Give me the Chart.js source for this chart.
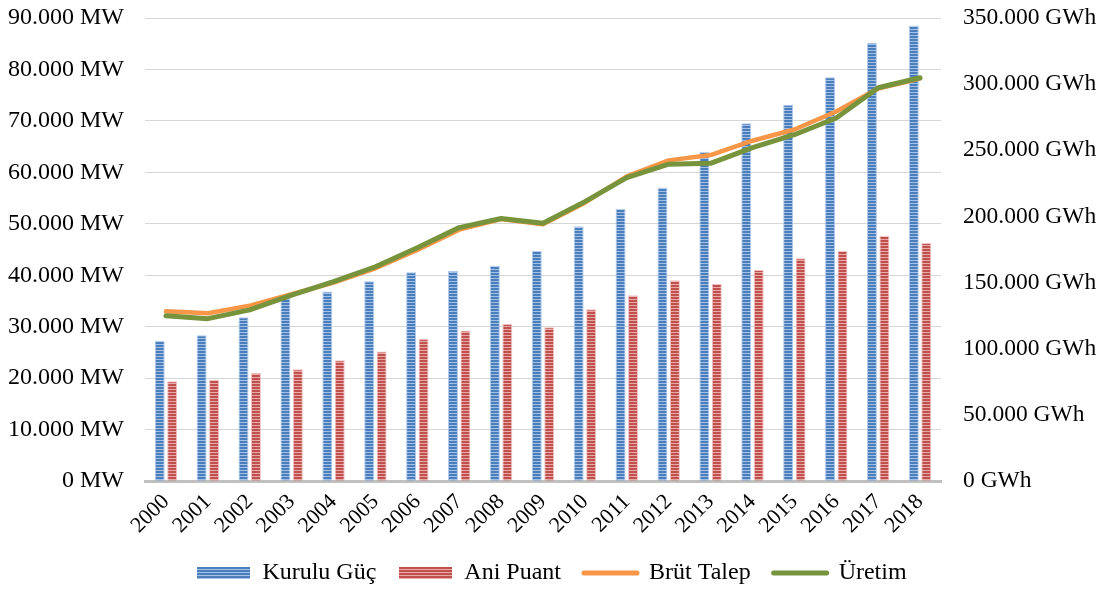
<!DOCTYPE html>
<html lang="tr">
<head>
<meta charset="utf-8">
<title>Kurulu Güç, Ani Puant, Brüt Talep ve Üretim 2000-2018</title>
<script src="https://cdn.jsdelivr.net/npm/chart.js@4/dist/chart.umd.min.js"></script>
<style>
  html, body { margin: 0; padding: 0; background: #ffffff; }
  #wrap { width: 1104px; height: 590px; position: relative; }
</style>
</head>
<body>
<div id="wrap"><canvas id="chart"></canvas></div>
<script>
// Yıllar
const years = ['2000','2001','2002','2003','2004','2005','2006','2007','2008','2009',
               '2010','2011','2012','2013','2014','2015','2016','2017','2018'];

// Kurulu güç (MW)
const kuruluGuc = [27264, 28332, 31846, 35587, 36824, 38844, 40565, 40836, 41817, 44761,
                   49524, 52911, 57059, 64008, 69520, 73147, 78497, 85200, 88551];

// Ani puant (MW)
const aniPuant = [19390, 19612, 21006, 21729, 23485, 25174, 27594, 29249, 30517, 29870,
                  33392, 36122, 39045, 38274, 41003, 43289, 44734, 47660, 46260];

// Brüt talep (GWh)
const brutTalep = [128295, 126871, 132553, 141151, 150018, 160794, 174637, 190000, 198085, 194079,
                   210434, 230306, 242370, 246357, 257220, 265724, 279286, 296702, 304167];

// Üretim (GWh)
const uretim = [124922, 122725, 129400, 140581, 150698, 161956, 176300, 191558, 198418, 194813,
                211208, 229395, 239497, 240154, 251963, 261783, 274408, 297278, 304802];

// Eksen etiketleri
const mwTicks  = ['0 MW','10.000 MW','20.000 MW','30.000 MW','40.000 MW',
                  '50.000 MW','60.000 MW','70.000 MW','80.000 MW','90.000 MW'];
const gwhTicks = ['0 GWh','50.000 GWh','100.000 GWh','150.000 GWh',
                  '200.000 GWh','250.000 GWh','300.000 GWh','350.000 GWh'];

const FONT = '"Liberation Serif", "Times New Roman", serif';

// Yatay çizgili sütun dolgusu
function stripePattern(dark, light) {
  const c = document.createElement('canvas');
  c.width = 4; c.height = 3;
  const g = c.getContext('2d');
  g.fillStyle = dark;  g.fillRect(0, 0, 4, 3);
  g.fillStyle = light; g.fillRect(0, 2, 4, 1);
  return g.createPattern(c, 'repeat');
}
// Lejant kutusu (aynı çizgili dolgu)
function stripeSwatch(dark, light, w, h) {
  const c = document.createElement('canvas');
  c.width = w; c.height = h;
  const g = c.getContext('2d');
  g.fillStyle = dark; g.fillRect(0, 0, w, h);
  g.fillStyle = light;
  for (let y = 2; y < h; y += 3) g.fillRect(0, y, w, 1);
  return c;
}

const blueDark = '#4a7ebb', blueLight = '#a3c0e6';
const redDark  = '#c0504d', redLight  = '#e8a9a7';
const orange = '#f79646', green = '#77933c';

const bluePattern = stripePattern(blueDark, blueLight);
const redPattern  = stripePattern(redDark, redLight);
const swatches = [stripeSwatch(blueDark, blueLight, 53, 12), stripeSwatch(redDark, redLight, 53, 12)];

// Dikey eksenlerde sabit genişlik; etiket taşması için ek boşluk bırakılmaz
const fixAxis = width => s => { s.width = width; s.paddingTop = 0; s.paddingBottom = 0; };

new Chart(document.getElementById('chart'), {
  data: {
    labels: years,
    datasets: [
      {
        type: 'bar', label: 'Kurulu Güç', data: kuruluGuc, yAxisID: 'yMW',
        backgroundColor: bluePattern, borderColor: 'rgba(165,195,235,0.9)', borderWidth: 1,
        categoryPercentage: 0.594, barPercentage: 0.8, order: 2
      },
      {
        type: 'bar', label: 'Ani Puant', data: aniPuant, yAxisID: 'yMW',
        backgroundColor: redPattern, borderColor: 'rgba(240,185,185,0.9)', borderWidth: 1,
        categoryPercentage: 0.594, barPercentage: 0.8, order: 3
      },
      {
        type: 'line', label: 'Brüt Talep', data: brutTalep, yAxisID: 'yGWh',
        borderColor: orange, backgroundColor: orange, borderWidth: 4.5,
        pointRadius: 0, pointHoverRadius: 0, tension: 0,
        borderCapStyle: 'round', borderJoinStyle: 'round', order: 1
      },
      {
        type: 'line', label: 'Üretim', data: uretim, yAxisID: 'yGWh',
        borderColor: green, backgroundColor: green, borderWidth: 5,
        pointRadius: 0, pointHoverRadius: 0, tension: 0,
        borderCapStyle: 'round', borderJoinStyle: 'round', order: 0
      }
    ]
  },
  options: {
    responsive: true,
    maintainAspectRatio: false,
    animation: false,
    devicePixelRatio: 1,
    layout: { padding: { top: 18, left: 0, right: 0, bottom: -5 } },
    scales: {
      x: {
        offset: true,
        grid: { display: false, drawTicks: false },
        border: { display: true, color: '#c0c0c0', width: 3 },
        ticks: {
          color: '#000', font: { family: FONT, size: 22 },
          minRotation: 45, maxRotation: 45, padding: 8, autoSkip: false
        },
        afterFit: s => { s.height = 57; }
      },
      yMW: {
        type: 'linear', position: 'left', min: 0, max: 90000,
        grid: { color: '#d6d6d6', lineWidth: 1, drawTicks: false },
        border: { display: false },
        ticks: {
          stepSize: 10000, padding: 21, color: '#000',
          font: { family: FONT, size: 24 },
          callback: (v, i) => mwTicks[i]
        },
        afterFit: fixAxis(145)
      },
      yGWh: {
        type: 'linear', position: 'right', min: 0, max: 350000,
        grid: { display: false, drawTicks: false },
        border: { display: false },
        ticks: {
          stepSize: 50000, padding: 22, color: '#000',
          font: { family: FONT, size: 23.5 },
          callback: (v, i) => gwhTicks[i]
        },
        afterFit: fixAxis(163)
      }
    },
    plugins: {
      tooltip: { enabled: false },
      legend: {
        position: 'bottom',
        labels: {
          color: '#000',
          font: { family: FONT, size: 24 },
          usePointStyle: true, pointStyleWidth: 53, boxHeight: 12,
          padding: 23,
          sort: (a, b) => a.datasetIndex - b.datasetIndex,
          generateLabels: chart => {
            const items = Chart.defaults.plugins.legend.labels.generateLabels(chart);
            items.forEach(it => {
              if (it.datasetIndex < 2) {
                it.pointStyle = swatches[it.datasetIndex];
              } else {
                const ds = chart.data.datasets[it.datasetIndex];
                it.pointStyle = 'line';
                it.strokeStyle = ds.borderColor;
                it.lineWidth = 5;
                it.lineCap = 'round';
              }
            });
            return items;
          }
        }
      }
    }
  }
});
</script>
</body>
</html>
